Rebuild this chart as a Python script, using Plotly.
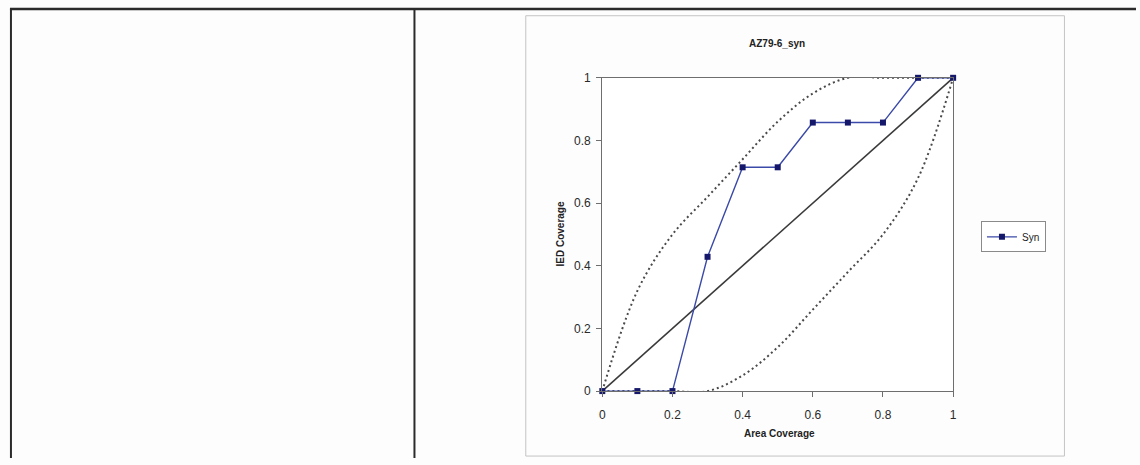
import plotly.graph_objects as go

W, H = 1140, 465

# Coverage data
area_cov = [0, 0.1, 0.2, 0.3, 0.4, 0.5, 0.6, 0.7, 0.8, 0.9, 1.0]
syn_cov = [0, 0, 0, 0.4286, 0.7143, 0.7143, 0.8571, 0.8571, 0.8571, 1.0, 1.0]
upper_bound = [0, 0.32, 0.50, 0.62, 0.74, 0.86, 0.95, 1.0, 1.0, 1.0, 1.0]
lower_bound = [0, 0, 0, 0, 0.05, 0.14, 0.26, 0.38, 0.50, 0.68, 1.0]
diag_x = [0, 1]
diag_y = [0, 1]
tick_vals = [0, 0.2, 0.4, 0.6, 0.8, 1]
tick_text = ["0", "0.2", "0.4", "0.6", "0.8", "1"]

FONT = "Arial, Liberation Sans, sans-serif"


def px_x(p):
    return p / W


def px_y(p):
    return 1 - p / H


fig = go.Figure()

dot_style = dict(color="#4a4a4a", width=2, dash="2px,3px")
fig.add_trace(go.Scatter(x=area_cov, y=upper_bound, mode="lines",
                         line=dict(shape="spline", smoothing=1, **dot_style),
                         showlegend=False, hoverinfo="skip", cliponaxis=False))
fig.add_trace(go.Scatter(x=area_cov, y=lower_bound, mode="lines",
                         line=dict(shape="spline", smoothing=1, **dot_style),
                         showlegend=False, hoverinfo="skip", cliponaxis=False))
fig.add_trace(go.Scatter(x=diag_x, y=diag_y, mode="lines",
                         line=dict(color="#3a3a3a", width=1.6),
                         showlegend=False, hoverinfo="skip"))
fig.add_trace(go.Scatter(x=area_cov, y=syn_cov, mode="lines+markers", name="Syn",
                         line=dict(color="#3b4aa8", width=1.4),
                         marker=dict(symbol="square", size=6, color="#15186a",
                                     line=dict(width=0)),
                         cliponaxis=False))

axis_common = dict(range=[0, 1], tickvals=tick_vals, ticktext=tick_text,
                   showgrid=False, zeroline=False, showline=True, mirror=True,
                   linecolor="#6e6e6e", linewidth=1.2, ticks="outside",
                   ticklen=5, tickcolor="#6e6e6e",
                   tickfont=dict(family=FONT, size=12, color="#2a2a2a"),
                   fixedrange=True)

fig.update_layout(
    width=W, height=H,
    margin=dict(l=0, r=0, t=0, b=0),
    paper_bgcolor="#fdfdfd", plot_bgcolor="#ffffff",
    xaxis=dict(domain=[px_x(603), px_x(956)], ticklabelstandoff=7, **axis_common),
    yaxis=dict(domain=[px_y(396), px_y(73)], ticklabelstandoff=3, **axis_common),
    legend=dict(x=px_x(984), y=px_y(221), xanchor="left", yanchor="top",
                bgcolor="#ffffff", bordercolor="#8a8a8a", borderwidth=1,
                font=dict(family=FONT, size=10, color="#222222"),
                itemwidth=30, tracegroupgap=0),
    showlegend=True,
)

# Page table rules and chart frame
shapes = [
    dict(type="line", xref="paper", yref="paper", x0=px_x(7), x1=1, y0=px_y(2), y1=px_y(2),
         line=dict(color="#2b2b2b", width=2.5)),
    dict(type="line", xref="paper", yref="paper", x0=px_x(8), x1=px_x(8), y0=px_y(2), y1=0,
         line=dict(color="#2b2b2b", width=2)),
    dict(type="line", xref="paper", yref="paper", x0=px_x(414), x1=px_x(414), y0=px_y(2), y1=0,
         line=dict(color="#2b2b2b", width=2)),
    dict(type="rect", xref="paper", yref="paper", x0=px_x(526), x1=px_x(1068),
         y0=px_y(463), y1=px_y(9), line=dict(color="#c4c4c4", width=1)),
]
fig.update_layout(shapes=shapes)

annotations = [
    dict(text="<b>AZ79-6_syn</b>", x=px_x(779), y=px_y(38), xref="paper", yref="paper",
         showarrow=False, font=dict(family=FONT, size=10, color="#222222"),
         xanchor="center", yanchor="middle"),
    dict(text="<b>Area Coverage</b>", x=px_x(781), y=px_y(440), xref="paper", yref="paper",
         showarrow=False, font=dict(family=FONT, size=10, color="#222222"),
         xanchor="center", yanchor="middle"),
    dict(text="<b>IED Coverage</b>", x=px_x(561), y=px_y(234), xref="paper", yref="paper",
         showarrow=False, textangle=-90, font=dict(family=FONT, size=10, color="#222222"),
         xanchor="center", yanchor="middle"),
]
fig.update_layout(annotations=annotations)

fig.write_html("out.html")
